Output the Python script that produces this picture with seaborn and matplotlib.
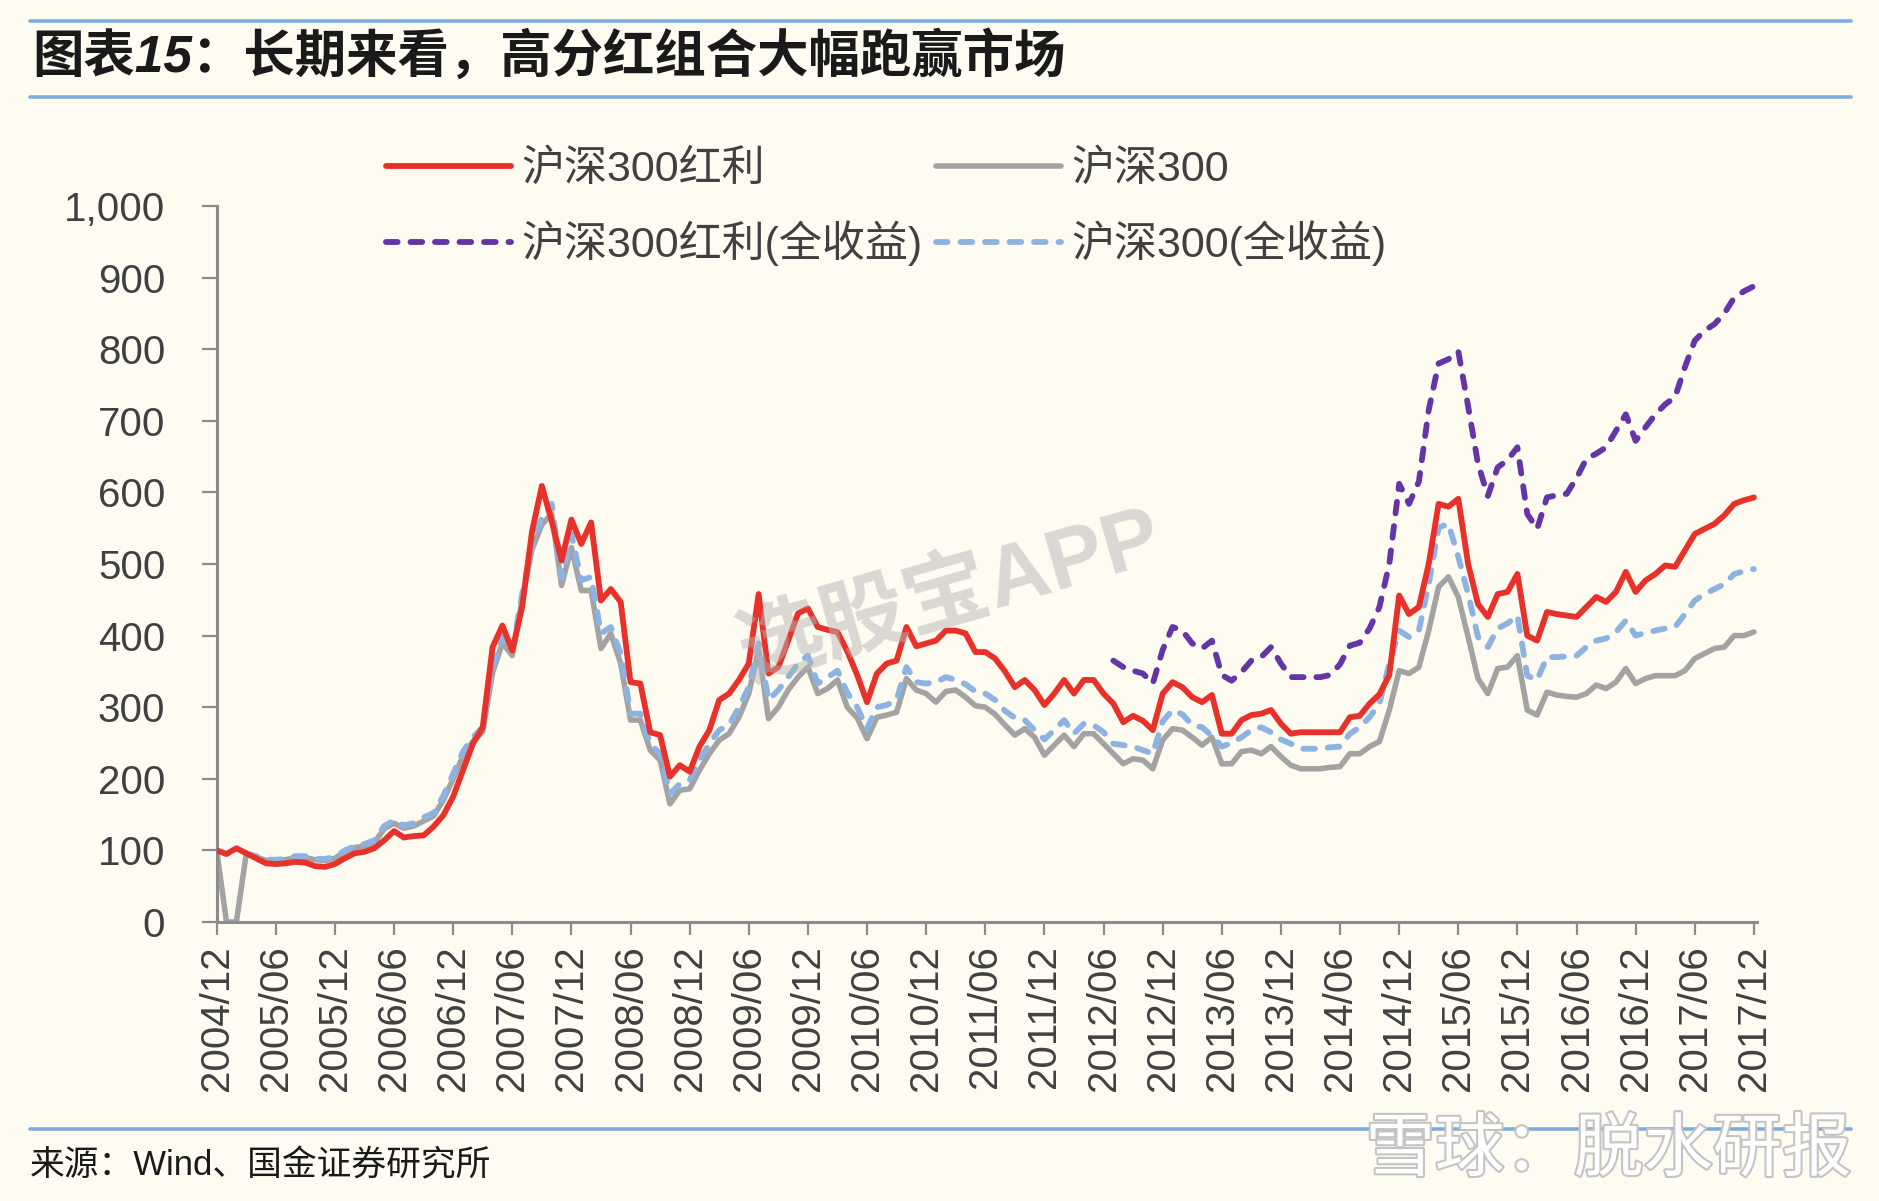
import numpy as np
import pandas as pd
import matplotlib.pyplot as plt
import matplotlib.patheffects as pe
from matplotlib.lines import Line2D
import seaborn as sns

# 月度数据 2004/12 - 2017/12
months = pd.date_range('2004-12-01', '2017-12-01', freq='MS')
tick_labels = [d.strftime('%Y/%m') for d in months[::6]]

hs300_div = [100, 95, 103, 96, 89, 82, 81, 82, 84, 83,
             78, 77, 81, 89, 96, 98, 103, 114, 127, 118,
             120, 121, 133, 149, 175, 212, 249, 272, 384, 414,
             379, 440, 545, 609, 560, 505, 562, 528, 558, 449,
             465, 447, 335, 333, 265, 261, 203, 219, 210, 245,
             268, 310, 319, 338, 361, 458, 347, 356, 393, 431,
             438, 412, 408, 405, 378, 345, 307, 347, 361, 365,
             412, 385, 389, 393, 407, 407, 403, 377, 377, 368,
             350, 328, 338, 324, 303, 319, 338, 319, 338, 338,
             319, 305, 279, 288, 281, 268, 319, 335, 328, 314,
             307, 317, 263, 263, 282, 289, 291, 296, 277, 263,
             265, 265, 265, 265, 265, 286, 288, 305, 318, 345,
             456, 430, 440, 500, 584, 580, 591, 500, 444, 426,
             458, 461, 486, 400, 393, 433, 430, 428, 426, 440,
             454, 447, 461, 489, 461, 477, 486, 498, 496, 519,
             542, 549, 556, 568, 584, 589, 593]

hs300 = [100, 0, 0, 95, 91, 86, 86, 87, 90, 90,
         87, 86, 89, 98, 104, 106, 111, 130, 138, 131,
         134, 141, 148, 170, 200, 232, 252, 266, 348, 390,
         372, 450, 520, 555, 570, 470, 523, 463, 463, 382,
         403, 361, 282, 282, 240, 226, 165, 184, 186, 212,
         235, 254, 263, 286, 319, 380, 284, 300, 324, 342,
         356, 319, 326, 338, 300, 285, 256, 286, 289, 293,
         340, 324, 319, 307, 322, 324, 314, 302, 300, 290,
         275, 261, 270, 258, 233, 247, 261, 245, 263, 263,
         249, 235, 221, 228, 226, 214, 254, 270, 268, 258,
         247, 258, 221, 221, 238, 240, 235, 245, 231, 219,
         214, 214, 214, 216, 217, 235, 235, 245, 252, 296,
         351, 347, 356, 407, 468, 482, 454, 398, 340, 319,
         354, 356, 372, 296, 289, 321, 317, 315, 314, 319,
         331, 326, 335, 354, 333, 340, 344, 344, 344, 351,
         368, 375, 382, 384, 400, 400, 405]

# 沪深300(全收益)，从2005/03开始
hs300_tr = [96, 92, 87, 87, 88, 92, 92,
            88, 88, 91, 100, 106, 109, 114, 134, 142, 135,
            138, 146, 152, 176, 207, 238, 258, 272, 355, 398,
            378, 458, 525, 565, 584, 480, 542, 477, 482, 403,
            412, 375, 291, 291, 249, 235, 179, 193, 198, 226,
            249, 268, 275, 300, 328, 389, 310, 324, 342, 361,
            372, 333, 342, 351, 320, 300, 270, 300, 303, 310,
            356, 335, 333, 335, 342, 338, 332, 322, 319, 310,
            295, 285, 282, 268, 255, 268, 282, 263, 277, 275,
            265, 249, 247, 245, 240, 235, 280, 296, 290, 275,
            272, 260, 245, 250, 258, 268, 272, 265, 255, 249,
            242, 242, 242, 244, 245, 263, 272, 286, 305, 361,
            407, 398, 407, 472, 551, 556, 510, 458, 398, 384,
            410, 417, 428, 344, 338, 370, 370, 371, 372, 384,
            393, 396, 405, 421, 400, 404, 407, 410, 412, 430,
            449, 458, 465, 472, 486, 490, 493]

# 沪深300红利(全收益)，从2012/07开始
hs300_div_tr = [365, 356, 351, 347, 333, 380, 412, 407, 389, 382,
                393, 345, 337, 349, 365, 370, 384, 361, 342, 342,
                342, 342, 345, 360, 386, 390, 410, 440, 500, 612,
                584, 615, 715, 780, 786, 797, 720, 640, 595, 635,
                645, 663, 570, 549, 593, 596, 598, 620, 647, 654,
                663, 686, 709, 672, 691, 709, 723, 733, 775, 812,
                826, 835, 850, 872, 881, 888]

series_names = ['沪深300红利', '沪深300', '沪深300红利(全收益)', '沪深300(全收益)']

bg = '#FEFCF1'
txt = '#404040'
axis_c = '#8C8C8C'

sns.set_style('ticks')
plt.rcParams['font.family'] = ['Liberation Sans', 'Noto Sans CJK SC']
plt.rcParams['axes.unicode_minus'] = False

fig = plt.figure(figsize=(18.79, 12.01), dpi=100, facecolor=bg)
ax = fig.add_axes([0.1153, 0.2323, 0.8197, 0.5962])
ax.set_facecolor(bg)

n = len(months)
idx = np.arange(n)

sns.lineplot(x=idx, y=hs300, ax=ax, color='#A3A3A3', linewidth=4.0, zorder=2)
sns.lineplot(x=idx[n - len(hs300_tr):], y=hs300_tr, ax=ax, color='#8DB3E2',
             linewidth=4.2, zorder=3)
sns.lineplot(x=idx, y=hs300_div, ax=ax, color='#E8312A', linewidth=4.2, zorder=4)
sns.lineplot(x=idx[n - len(hs300_div_tr):], y=hs300_div_tr, ax=ax, color='#6534A6',
             linewidth=4.2, zorder=5)

gray_l, blue_l, red_l, purple_l = ax.lines[:4]
for l in (blue_l, purple_l):
    l.set_dashes((2.0, 2.2))
    l.set_dash_capstyle('round')

ax.set_xlim(0, 156.3)
ax.set_ylim(0, 1000)
ax.set_xticks(idx[::6])
ax.set_xticklabels(tick_labels, rotation=90, fontsize=29, color=txt)
ax.set_yticks(np.arange(0, 1001, 100))
ax.set_yticklabels([f'{v:,}' for v in range(0, 1001, 100)], fontsize=29, color=txt)
ax.set_xlabel('')
ax.set_ylabel('')

for s in ('top', 'right'):
    ax.spines[s].set_visible(False)
for s in ('left', 'bottom'):
    ax.spines[s].set_color(axis_c)
    ax.spines[s].set_linewidth(2.2)
ax.tick_params(axis='y', length=11, width=1.6, color=axis_c, pad=26)
ax.tick_params(axis='x', length=9, width=1.6, color=axis_c, pad=8)

# 图例
handles = [red_l, purple_l, gray_l, blue_l]
labels = [series_names[0], series_names[2], series_names[1], series_names[3]]
leg = fig.legend(handles, labels, loc='upper left', bbox_to_anchor=(386 / 1879, 1 - 150 / 1201),
                 ncol=2, frameon=False, fontsize=31, handlelength=2.9, handletextpad=0.25,
                 columnspacing=0.3, labelspacing=0.7, borderpad=0, borderaxespad=0)
for t in leg.get_texts():
    t.set_color(txt)

# 标题与装饰线
line_c = '#7DAEDB'
for yy in (21, 97, 1129):
    fig.add_artist(Line2D([30 / 1879, 1851 / 1879], [1 - yy / 1201] * 2,
                          color=line_c, lw=2.6))
fig.text(32 / 1879, 1 - 57 / 1201, '图表15：长期来看，高分红组合大幅跑赢市场',
         fontsize=37, fontweight='bold', style='italic', va='center', color='#1A1A1A')
fig.text(30 / 1879, 1 - 1166 / 1201, '来源：Wind、国金证券研究所',
         fontsize=25, va='center', color='#1A1A1A')

# 水印
fig.text(950 / 1879, 1 - 596 / 1201, '选股宝APP', fontsize=62, rotation=16,
         ha='center', va='center', color='#B4B4B4', alpha=0.5, fontweight='bold')
fig.text(1852 / 1879, 1 - 1152 / 1201, '雪球：脱水研报', fontsize=50, ha='right',
         va='center', color='white',
         path_effects=[pe.withStroke(linewidth=3, foreground='#C4C4C4')])

fig.savefig('out.png', dpi=100, facecolor=bg)
